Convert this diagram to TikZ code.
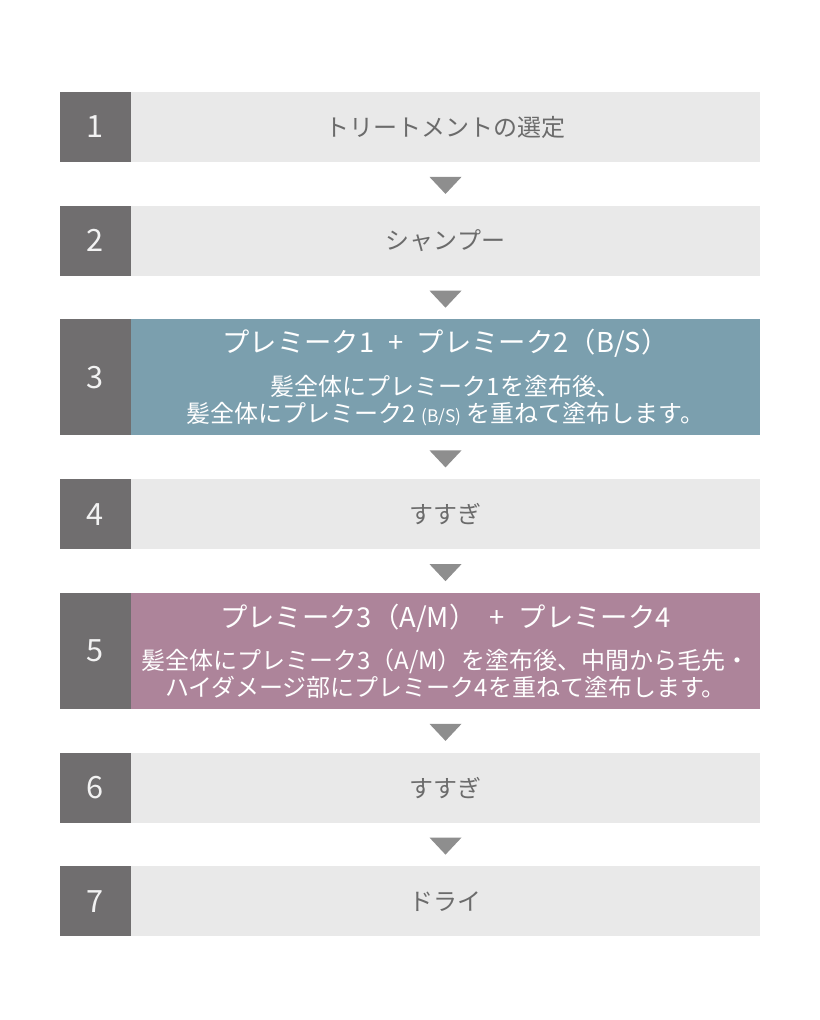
\documentclass[tikz,border=0pt]{standalone}
\usepackage{fontspec}
\setmainfont{Noto Sans CJK JP}
\usetikzlibrary{positioning}
\usetikzlibrary{shapes.geometric}

\definecolor{numgray}{HTML}{706E6F}
\definecolor{numtext}{HTML}{F2F2F2}
\definecolor{stepgray}{HTML}{E9E9E9}
\definecolor{steptext}{HTML}{6B6B6B}
\definecolor{tealbox}{HTML}{7B9FAE}
\definecolor{mauvebox}{HTML}{AD849A}
\definecolor{arrowgray}{HTML}{8E8E8E}

\begin{document}
\begin{tikzpicture}[
        num/.style = {
            fill=numgray,
            minimum width = 53.25pt,
            minimum height = #1,
            inner sep = 0pt,
            outer sep = 0pt,
            text=numtext,
            font=\fontsize{23}{23}\selectfont
        },
        num/.default = 52.5pt,
        stepbox/.style = {
            fill=stepgray,
            minimum width = 471.75pt,
            minimum height = #1,
            inner sep = 0pt,
            outer sep = 0pt,
            text=steptext,
            align=center,
            font=\fontsize{18}{20}\selectfont
        },
        stepbox/.default = 52.5pt,
        arrowtri/.style = {
            isosceles triangle,
            isosceles triangle stretches,
            shape border rotate=270,
            minimum width = 24pt,
            minimum height = 12.75pt,
            inner sep = 0pt,
            fill=arrowgray
        },
        node distance = {32.8pt}
    ]
    \useasboundingbox (0,0) rectangle (615pt,-765pt);
    \node[num, anchor=north west] (n1) at (45pt,-69pt) {1};
    \node[stepbox, right=0pt of n1] (s1) {トリートメントの選定};
    \node[num, below=of n1] (n2) {2};
    \node[stepbox, right=0pt of n2] (s2) {シャンプー};
    \node[num=87pt, below=of n2] (n3) {3};
    \node[stepbox=87pt, fill=tealbox, text=white, font=\fontsize{18}{20}\selectfont, right=0pt of n3] (s3)
        {{\fontsize{20.5}{20}\selectfont プレミーク1\enspace+\enspace プレミーク2（B/S）}\\[12pt]
         髪全体にプレミーク1を塗布後、\\
         髪全体にプレミーク2\ {\fontsize{13}{13}\selectfont (B/S)}\ を重ねて塗布します。};
    \node[num, below=of n3] (n4) {4};
    \node[stepbox, right=0pt of n4] (s4) {すすぎ};
    \node[num=87pt, below=of n4] (n5) {5};
    \node[stepbox=87pt, fill=mauvebox, text=white, font=\fontsize{18}{20}\selectfont, right=0pt of n5] (s5)
        {{\fontsize{20.5}{20}\selectfont プレミーク3（A/M）\enspace+\enspace プレミーク4}\\[12pt]
         髪全体にプレミーク3（A/M）を塗布後、中間から毛先・\\
         ハイダメージ部にプレミーク4を重ねて塗布します。};
    \node[num, below=of n5] (n6) {6};
    \node[stepbox, right=0pt of n6] (s6) {すすぎ};
    \node[num, below=of n6] (n7) {7};
    \node[stepbox, right=0pt of n7] (s7) {ドライ};

    \path (s1.south) -- node[arrowtri]{} (s2.north);
    \path (s2.south) -- node[arrowtri]{} (s3.north);
    \path (s3.south) -- node[arrowtri]{} (s4.north);
    \path (s4.south) -- node[arrowtri]{} (s5.north);
    \path (s5.south) -- node[arrowtri]{} (s6.north);
    \path (s6.south) -- node[arrowtri]{} (s7.north);
\end{tikzpicture}
\end{document}
